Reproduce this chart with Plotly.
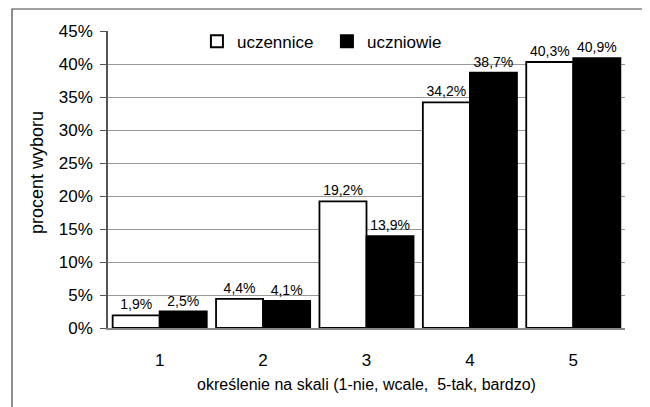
import plotly.graph_objects as go

categories = ["1", "2", "3", "4", "5"]
uczennice = [1.9, 4.4, 19.2, 34.2, 40.3]
uczniowie = [2.5, 4.1, 13.9, 38.7, 40.9]
tick_vals = [0, 5, 10, 15, 20, 25, 30, 35, 40, 45]
tick_text = [f"{v}%" for v in tick_vals]

def lab(v):
    return [f"{x:.1f}".replace(".", ",") + "%" for x in v]

FONT = "Liberation Sans"
OFF = 8  # page body margin
W, H = 650 - OFF, 407 - OFF
L, T = 108 - OFF, 31 - OFF
R = W - (625 - OFF)
B = H - (328 - OFF)
PW = W - L - R
PH = H - T - B

fig = go.Figure()
fig.add_trace(go.Bar(
    x=categories, y=uczennice, name="uczennice",
    marker=dict(color="white", line=dict(color="black", width=1.8)),
    text=lab(uczennice), textposition="outside", cliponaxis=False,
    textfont=dict(size=14, color="black", family=FONT),
))
fig.add_trace(go.Bar(
    x=categories, y=uczniowie, name="uczniowie",
    marker=dict(color="black", line=dict(color="black", width=1.8)),
    text=lab(uczniowie), textposition="outside", cliponaxis=False,
    textfont=dict(size=14, color="black", family=FONT),
))

fig.update_layout(
    width=W, height=H,
    margin=dict(l=L, r=R, t=T, b=B, autoexpand=False),
    paper_bgcolor="white", plot_bgcolor="white",
    barmode="group", bargap=0.09, bargroupgap=0,
    font=dict(family=FONT, size=16, color="black"),
    showlegend=True,
    legend=dict(orientation="h", x=0.172, y=1.025, xanchor="left", yanchor="top",
                bgcolor="rgba(0,0,0,0)", font=dict(size=17, family=FONT),
                itemsizing="constant", traceorder="normal", itemwidth=30,
                entrywidth=85, entrywidthmode="pixels"),
    xaxis=dict(type="category", showline=True, linecolor="#888888", linewidth=1.5,
               ticks="", tickfont=dict(size=17), ticklabelstandoff=16,
               automargin=False,
               title=dict(text="określenie na skali (1-nie, wcale,  5-tak, bardzo)",
                          font=dict(size=16), standoff=10)),
    yaxis=dict(range=[0, 45], tickvals=tick_vals, ticktext=tick_text,
               showgrid=True, gridcolor="#999999", gridwidth=1.2,
               showline=True, linecolor="#555555", linewidth=1.5,
               ticks="outside", ticklen=6, tickcolor="#555555",
               tickfont=dict(size=17), zeroline=False, automargin=False,
               ticklabelstandoff=4),
    annotations=[dict(text="procent wyboru", textangle=-90, showarrow=False,
                      xref="paper", yref="paper",
                      x=(37 - 108) / PW, y=(328 - 173) / PH,
                      xanchor="center", yanchor="middle",
                      font=dict(size=18, family=FONT, color="black"))],
    shapes=[dict(type="rect", xref="paper", yref="paper",
                 x0=(12 - 108) / PW, x1=(645 - 108) / PW,
                 y0=(328 - 420) / PH, y1=(328 - 9) / PH,
                 line=dict(color="#444444", width=1.2), fillcolor="rgba(0,0,0,0)",
                 layer="below")],
)

fig.write_html("out.html")
